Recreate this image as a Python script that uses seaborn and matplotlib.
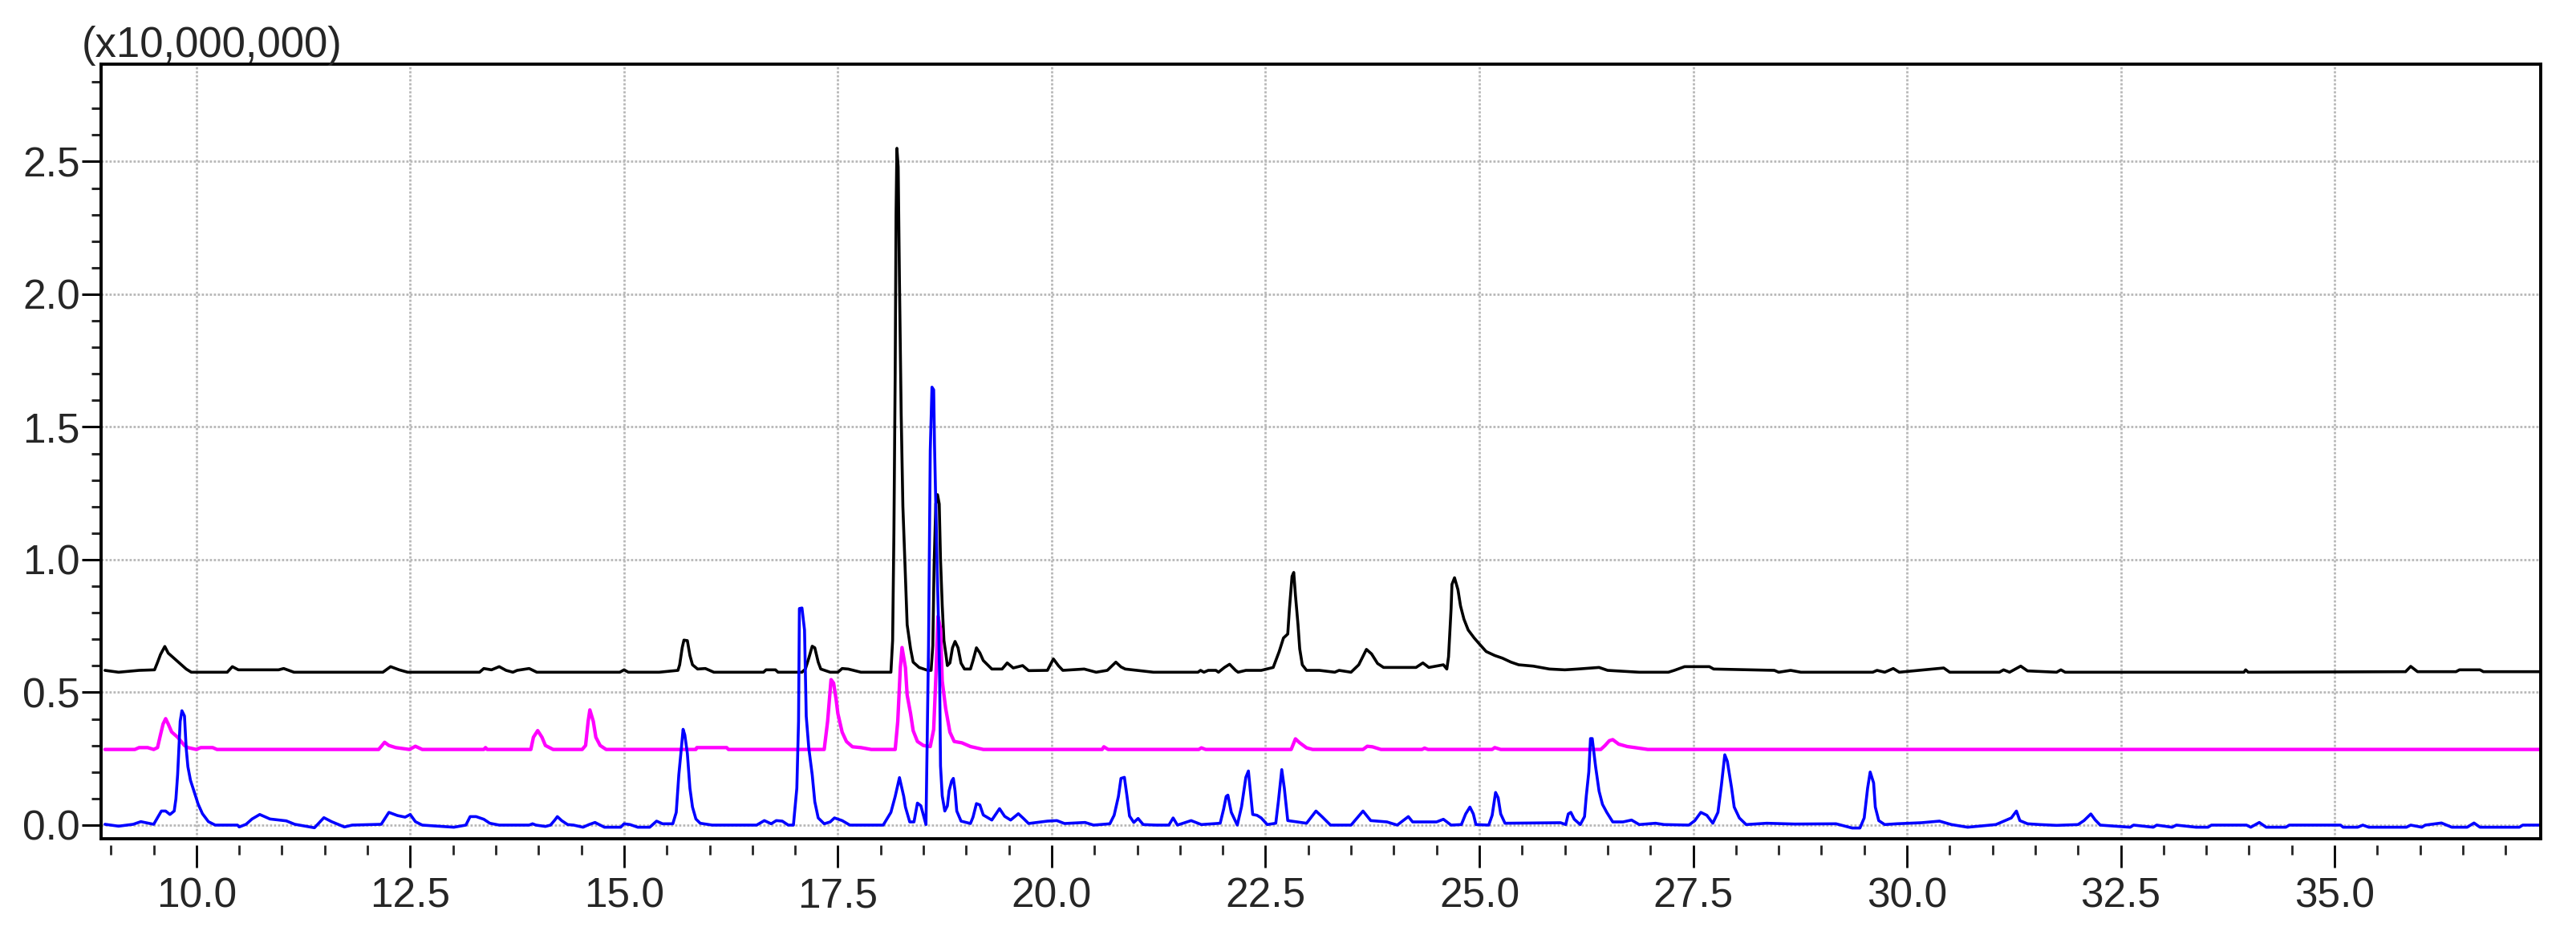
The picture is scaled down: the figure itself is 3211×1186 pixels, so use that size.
import seaborn as sns
import matplotlib.pyplot as plt
from matplotlib.ticker import MultipleLocator, FormatStrFormatter

# Retention time (min) / intensity (x10,000,000)
black_t = [8.93, 9.09, 9.33, 9.51, 9.545, 9.58, 9.63, 9.67, 9.74, 9.81, 9.88, 9.94,
           10.36, 10.42, 10.49, 10.96, 11.02, 11.14, 12.18, 12.27, 12.37, 12.47,
           13.31, 13.36, 13.45, 13.54, 13.62, 13.70, 13.75, 13.89, 13.98,
           14.95, 15.0, 15.05, 15.41, 15.63, 15.65, 15.68, 15.70, 15.74, 15.77, 15.80,
           15.86, 15.95, 16.05, 16.63, 16.66, 16.77, 16.80, 17.08, 17.12, 17.16, 17.20,
           17.23, 17.27, 17.30, 17.41, 17.50, 17.55, 17.62, 17.77,
           18.12, 18.14, 18.155, 18.17, 18.18, 18.19, 18.205, 18.22, 18.24, 18.26, 18.29,
           18.31, 18.35, 18.38, 18.45, 18.55, 18.59, 18.61, 18.625, 18.645, 18.665,
           18.685, 18.70, 18.72, 18.74, 18.765, 18.78, 18.81, 18.84, 18.87, 18.905,
           18.94, 18.98, 19.05, 19.08, 19.12, 19.16, 19.20, 19.30, 19.42, 19.48, 19.55,
           19.66, 19.73, 19.95, 20.02, 20.08, 20.13, 20.38, 20.52, 20.65, 20.75, 20.81,
           20.86, 21.19, 21.71, 21.74, 21.78, 21.83, 21.92, 21.95, 22.02, 22.08, 22.15,
           22.18, 22.27, 22.45, 22.59, 22.66, 22.71, 22.76, 22.78, 22.81, 22.83, 22.85,
           22.88, 22.90, 22.93, 22.98, 23.13, 23.31, 23.36, 23.50, 23.59, 23.68, 23.74,
           23.81, 23.88, 24.02, 24.26, 24.34, 24.41, 24.58, 24.62, 24.64, 24.65, 24.67,
           24.68, 24.71, 24.75, 24.78, 24.82, 24.87, 24.94, 25.01, 25.08, 25.18, 25.27,
           25.37, 25.46, 25.63, 25.82, 26.0, 26.15, 26.40, 26.50, 26.87, 27.21, 27.28,
           27.40, 27.69, 27.74, 28.45, 28.50, 28.64, 28.76, 29.6, 29.65, 29.74, 29.84,
           29.91, 30.43, 30.50, 31.08, 31.13, 31.20, 31.33, 31.41, 31.75, 31.80, 31.85,
           33.94, 33.96, 33.99, 35.83, 35.89, 35.97, 36.42, 36.46, 36.70, 36.74, 37.45]
black_y = [0.583, 0.576, 0.583, 0.585, 0.613, 0.643, 0.673, 0.648, 0.628, 0.608, 0.588, 0.576,
           0.576, 0.597, 0.585, 0.585, 0.590, 0.576, 0.576, 0.597, 0.585, 0.576,
           0.576, 0.590, 0.585, 0.597, 0.583, 0.576, 0.583, 0.590, 0.576,
           0.576, 0.585, 0.576, 0.576, 0.583, 0.604, 0.669, 0.697, 0.695, 0.639, 0.604,
           0.588, 0.590, 0.576, 0.576, 0.585, 0.585, 0.576, 0.576, 0.588, 0.629, 0.674,
           0.668, 0.614, 0.588, 0.576, 0.576, 0.590, 0.588, 0.576,
           0.576, 0.695, 1.10, 1.70, 2.30, 2.55, 2.48, 2.05, 1.55, 1.20, 0.93,
           0.755, 0.664, 0.614, 0.594, 0.583, 0.583, 0.677, 0.98, 1.21, 1.245,
           1.21, 1.0, 0.828, 0.696, 0.639, 0.601, 0.611, 0.668, 0.692, 0.668,
           0.610, 0.588, 0.588, 0.620, 0.668, 0.649, 0.620, 0.588, 0.588, 0.611, 0.592,
           0.601, 0.582, 0.583, 0.626, 0.600, 0.583, 0.588, 0.576, 0.583, 0.614, 0.596,
           0.588, 0.576, 0.576, 0.583, 0.576, 0.583, 0.583, 0.576, 0.594, 0.606, 0.583,
           0.576, 0.583, 0.583, 0.594, 0.654, 0.705, 0.720, 0.816, 0.937, 0.952, 0.866,
           0.755, 0.664, 0.604, 0.583, 0.583, 0.576, 0.583, 0.576, 0.604, 0.662, 0.645,
           0.609, 0.594, 0.594, 0.594, 0.611, 0.594, 0.604, 0.588, 0.634, 0.695, 0.816,
           0.907, 0.932, 0.887, 0.826, 0.776, 0.735, 0.705, 0.679, 0.654, 0.639, 0.629,
           0.614, 0.604, 0.599, 0.588, 0.585, 0.588, 0.594, 0.583, 0.576, 0.576, 0.583,
           0.597, 0.597, 0.588, 0.583, 0.576, 0.583, 0.576, 0.576, 0.583, 0.576, 0.590,
           0.576, 0.592, 0.576, 0.576, 0.585, 0.576, 0.599, 0.581, 0.576, 0.585, 0.576,
           0.576, 0.585, 0.576, 0.578, 0.598, 0.578, 0.578, 0.585, 0.585, 0.578, 0.578]

magenta_t = [8.93, 9.28, 9.33, 9.43, 9.50, 9.545, 9.58, 9.61, 9.64, 9.67, 9.71, 9.78, 9.86,
             9.90, 10.0, 10.05, 10.19, 10.24, 12.13, 12.17, 12.20, 12.25, 12.33, 12.49,
             12.56, 12.64, 13.36, 13.38, 13.40, 13.91, 13.94, 13.99, 14.04, 14.08, 14.17,
             14.51, 14.55, 14.58, 14.60, 14.64, 14.67, 14.72, 14.79, 15.84, 15.85, 16.20,
             16.22, 17.34, 17.38, 17.42, 17.45, 17.48, 17.50, 17.55, 17.60, 17.67, 17.77,
             17.89, 18.17, 18.20, 18.23, 18.25, 18.29, 18.31, 18.35, 18.38, 18.43, 18.50,
             18.58, 18.62, 18.65, 18.67, 18.70, 18.72, 18.76, 18.81, 18.86, 18.95, 19.05,
             19.2, 20.59, 20.61, 20.66, 21.72, 21.75, 21.80, 22.80, 22.85, 22.90, 22.98,
             23.05, 23.64, 23.69, 23.75, 23.85, 24.33, 24.36, 24.40, 25.15, 25.18, 25.25,
             26.42, 26.47, 26.52, 26.56, 26.63, 26.73, 26.82, 26.97, 37.45]
magenta_y = [0.285, 0.285, 0.292, 0.292, 0.285, 0.292, 0.341, 0.381, 0.401, 0.381, 0.351, 0.331, 0.300,
             0.292, 0.285, 0.292, 0.292, 0.285, 0.285, 0.300, 0.312, 0.300, 0.292, 0.285,
             0.297, 0.285, 0.285, 0.292, 0.285, 0.285, 0.331, 0.356, 0.331, 0.300, 0.285,
             0.285, 0.300, 0.391, 0.434, 0.391, 0.331, 0.300, 0.285, 0.285, 0.292, 0.292,
             0.285, 0.285, 0.391, 0.548, 0.535, 0.472, 0.420, 0.350, 0.315, 0.295, 0.292,
             0.285, 0.285, 0.390, 0.593, 0.669, 0.593, 0.490, 0.420, 0.356, 0.315, 0.300,
             0.296, 0.360, 0.593, 0.786, 0.740, 0.543, 0.440, 0.350, 0.315, 0.310, 0.296,
             0.285, 0.285, 0.295, 0.285, 0.285, 0.291, 0.285, 0.285, 0.325, 0.310, 0.291,
             0.285, 0.285, 0.297, 0.295, 0.285, 0.285, 0.290, 0.285, 0.285, 0.292, 0.285,
             0.285, 0.300, 0.318, 0.322, 0.305, 0.296, 0.292, 0.285, 0.285]

blue_t = [8.93, 9.09, 9.26, 9.35, 9.50, 9.545, 9.59, 9.64, 9.69, 9.74, 9.76, 9.78, 9.81, 9.83,
          9.86, 9.88, 9.90, 9.93, 9.98, 10.02, 10.07, 10.14, 10.22, 10.48, 10.50, 10.58,
          10.65, 10.74, 10.86, 11.05, 11.15, 11.38, 11.49, 11.58, 11.73, 11.82, 12.16,
          12.25, 12.35, 12.44, 12.50, 12.56, 12.64, 13.01, 13.15, 13.20, 13.27, 13.36,
          13.43, 13.54, 13.89, 13.93, 13.97, 14.08, 14.14, 14.19, 14.22, 14.27, 14.34,
          14.41, 14.52, 14.59, 14.66, 14.77, 14.96, 15.0, 15.07, 15.16, 15.30, 15.38,
          15.45, 15.57, 15.61, 15.64, 15.67, 15.69, 15.71, 15.74, 15.77, 15.80, 15.84,
          15.89, 16.03, 16.55, 16.64, 16.72, 16.78, 16.85, 16.92, 16.98, 17.02, 17.04,
          17.05, 17.08, 17.11, 17.13, 17.16, 17.20, 17.23, 17.27, 17.34, 17.41, 17.46,
          17.55, 17.64, 18.03, 18.12, 18.17, 18.22, 18.27, 18.29, 18.34, 18.39, 18.43,
          18.47, 18.50, 18.53, 18.56, 18.58, 18.60, 18.62, 18.63, 18.66, 18.68, 18.69,
          18.70, 18.72, 18.75, 18.78, 18.80, 18.83, 18.85, 18.87, 18.89, 18.94, 19.05,
          19.08, 19.12, 19.16, 19.20, 19.30, 19.39, 19.45, 19.52, 19.61, 19.67, 19.73,
          19.95, 20.06, 20.15, 20.39, 20.49, 20.68, 20.73, 20.78, 20.81, 20.85, 20.88,
          20.91, 20.96, 21.01, 21.07, 21.22, 21.37, 21.42, 21.47, 21.63, 21.75, 21.97,
          22.01, 22.04, 22.06, 22.10, 22.17, 22.22, 22.27, 22.30, 22.32, 22.35, 22.40,
          22.45, 22.52, 22.62, 22.65, 22.69, 22.72, 22.76, 22.98, 23.09, 23.16, 23.26,
          23.50, 23.64, 23.73, 23.92, 24.04, 24.17, 24.22, 24.50, 24.58, 24.67, 24.79,
          24.84, 24.89, 24.93, 24.96, 25.11, 25.15, 25.19, 25.22, 25.25, 25.30, 25.95,
          26.01, 26.04, 26.07, 26.11, 26.18, 26.23, 26.25, 26.28, 26.30, 26.32, 26.36,
          26.40, 26.44, 26.49, 26.56, 26.68, 26.78, 26.87, 27.06, 27.16, 27.45, 27.52,
          27.59, 27.66, 27.73, 27.79, 27.83, 27.87, 27.90, 27.95, 27.98, 28.04, 28.12,
          28.36, 28.69, 29.17, 29.36, 29.45, 29.50, 29.54, 29.57, 29.61, 29.63, 29.67,
          29.74, 29.88, 30.17, 30.38, 30.52, 30.71, 31.04, 31.22, 31.28, 31.32, 31.41,
          31.55, 31.75, 32.0, 32.07, 32.15, 32.20, 32.26, 32.61, 32.65, 32.88, 32.92,
          33.10, 33.15, 33.38, 33.52, 33.56, 33.97, 34.02, 34.12, 34.20, 34.43, 34.47,
          35.07, 35.10, 35.27, 35.33, 35.40, 35.84, 35.89, 36.02, 36.06, 36.25, 36.37,
          36.55, 36.63, 36.70, 37.16, 37.20, 37.45]
blue_y = [0.003, -0.004, 0.003, 0.013, 0.003, 0.028, 0.053, 0.053, 0.040, 0.053, 0.099, 0.190, 0.391, 0.431,
          0.411, 0.290, 0.220, 0.169, 0.119, 0.079, 0.043, 0.013, 0.0, 0.0, -0.007, 0.003,
          0.023, 0.040, 0.023, 0.016, 0.003, -0.010, 0.028, 0.013, -0.007, 0.0, 0.003,
          0.048, 0.036, 0.030, 0.040, 0.013, 0.0, -0.008, 0.0, 0.032, 0.032, 0.022,
          0.007, 0.0, 0.0, 0.005, 0.0, -0.005, 0.0, 0.019, 0.032, 0.017, 0.002,
          0.0, -0.008, 0.002, 0.010, -0.008, -0.008, 0.005, 0.002, -0.008, -0.008, 0.015,
          0.005, 0.005, 0.048, 0.189, 0.290, 0.361, 0.340, 0.270, 0.139, 0.068, 0.023,
          0.007, 0.0, 0.0, 0.017, 0.005, 0.017, 0.015, 0.0, 0.0, 0.139, 0.391,
          0.816, 0.818, 0.735, 0.410, 0.290, 0.189, 0.088, 0.027, 0.005, 0.012, 0.027,
          0.017, 0.0, 0.0, 0.048, 0.108, 0.179, 0.108, 0.068, 0.012, 0.012, 0.083,
          0.073, 0.037, 0.002, 0.677, 1.41, 1.65, 1.64, 1.43, 0.98, 0.715, 0.545,
          0.223, 0.110, 0.053, 0.072, 0.129, 0.166, 0.176, 0.129, 0.053, 0.015, 0.006,
          0.030, 0.081, 0.076, 0.038, 0.019, 0.062, 0.033, 0.019, 0.043, 0.025, 0.006,
          0.015, 0.017, 0.006, 0.010, 0.0, 0.005, 0.037, 0.108, 0.176, 0.180, 0.110,
          0.034, 0.010, 0.025, 0.002, 0.0, 0.0, 0.027, 0.0, 0.017, 0.002, 0.007,
          0.060, 0.108, 0.113, 0.048, 0.0, 0.070, 0.180, 0.204, 0.139, 0.040, 0.037,
          0.027, 0.002, 0.007, 0.088, 0.209, 0.139, 0.017, 0.007, 0.053, 0.032, 0.0,
          0.0, 0.053, 0.017, 0.012, 0.0, 0.032, 0.012, 0.012, 0.022, 0.0, 0.002,
          0.042, 0.068, 0.042, 0.002, 0.0, 0.037, 0.123, 0.103, 0.042, 0.007, 0.009,
          0.002, 0.042, 0.048, 0.022, 0.002, 0.032, 0.108, 0.200, 0.326, 0.326, 0.219,
          0.128, 0.078, 0.048, 0.012, 0.012, 0.019, 0.002, 0.007, 0.002, 0.0, 0.017,
          0.048, 0.037, 0.007, 0.048, 0.149, 0.265, 0.240, 0.139, 0.068, 0.027, 0.002,
          0.007, 0.004, 0.005, -0.011, -0.011, 0.027, 0.139, 0.200, 0.159, 0.068, 0.017,
          0.002, 0.005, 0.009, 0.015, 0.002, -0.008, 0.002, 0.027, 0.053, 0.017, 0.005,
          0.002, -0.001, 0.002, 0.017, 0.042, 0.020, 0.0, -0.008, 0.0, -0.008, 0.0,
          -0.008, 0.0, -0.008, -0.008, 0.0, 0.0, -0.008, 0.010, -0.008, -0.008, 0.0,
          0.0, -0.008, -0.008, 0.0, -0.008, -0.008, 0.0, -0.008, 0.0, 0.008, -0.008,
          -0.008, 0.008, -0.008, -0.008, 0.0, 0.0]

sns.set_style("white")
plt.rcParams['font.family'] = ['Liberation Sans', 'DejaVu Sans']

fig = plt.figure(figsize=(32.12, 11.86), dpi=100)
ax = fig.add_axes([126 / 3212, 1 - 1046 / 1186, (3167 - 126) / 3212, (1046 - 80) / 1186])

for t, y, color, lw in [(black_t, black_y, '#000000', 2.6),
                        (magenta_t, magenta_y, '#ff00ff', 3.1),
                        (blue_t, blue_y, '#0000ff', 2.6)]:
    sns.lineplot(x=t, y=y, ax=ax, color=color, lw=lw, estimator=None, sort=False)

ax.set_xlim(8.885, 37.41)
ax.set_ylim(-0.0514, 2.867)

ax.xaxis.set_major_locator(MultipleLocator(2.5))
ax.xaxis.set_minor_locator(MultipleLocator(0.5))
ax.yaxis.set_major_locator(MultipleLocator(0.5))
ax.yaxis.set_minor_locator(MultipleLocator(0.1))
ax.xaxis.set_major_formatter(FormatStrFormatter('%.1f'))
ax.yaxis.set_major_formatter(FormatStrFormatter('%.1f'))

ax.tick_params(axis='x', which='major', bottom=True, direction='out', length=20, width=2.0,
               pad=8, labelsize=37, color='black')
ax.tick_params(axis='x', which='minor', bottom=True, direction='out', length=8.6, width=2.0)
ax.tick_params(axis='y', which='major', left=True, direction='out', length=17, width=2.2,
               pad=2, labelsize=37, color='black')
ax.tick_params(axis='y', which='minor', left=True, direction='out', length=8.6, width=2.2)

ax.grid(True, which='major', color='#b8b8b8', linestyle=(0, (1, 0.8)), linewidth=2.0)
ax.set_axisbelow(True)

# ticks on the time axis sit a little below the frame
for side in ['top', 'left', 'right']:
    ax.spines[side].set_linewidth(2.8)
    ax.spines[side].set_color('black')
ax.spines['bottom'].set_position(('outward', 6))
ax.spines['bottom'].set_visible(False)
ax.plot([0, 1], [0, 0], transform=ax.transAxes, color='black', lw=2.8, clip_on=False)

ax.set_xlabel('')
ax.set_ylabel('')
ax.annotate('(x10,000,000)', xy=(0, 1), xycoords='axes fraction', xytext=(-17.6, 6.5),
            textcoords='offset points', ha='left', va='baseline', fontsize=38)

fig.savefig('out.png', dpi=100)
